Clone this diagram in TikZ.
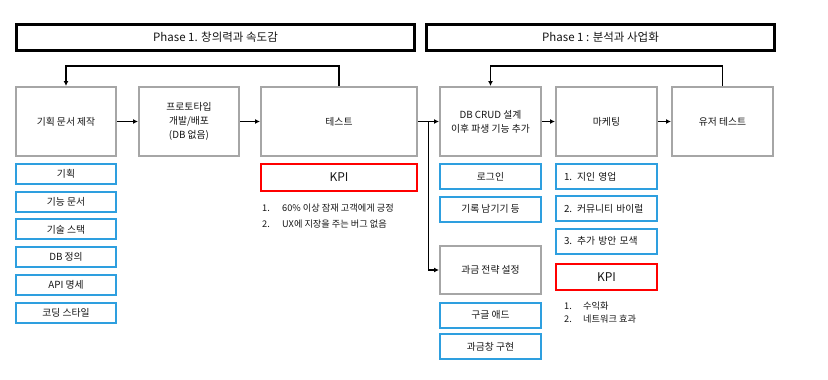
\documentclass[tikz,border=0pt]{standalone}
\usepackage{fontspec}
\setmainfont{Noto Sans CJK KR}
\usetikzlibrary{arrows.meta,positioning,calc}
\definecolor{phink} {HTML}{151515}
\definecolor{phgray}{HTML}{A6A6A6}
\definecolor{phblue}{HTML}{2E9FDF}
\definecolor{phred} {HTML}{FF0000}
\tikzset{
  phtitle/.style={draw=black, line width=3pt, minimum height=26pt, inner sep=0pt,
                  font=\fontsize{11.5}{13}\selectfont, text=phink},
  phstep/.style={draw=phgray, line width=2pt, fill=white, minimum height=69pt,
                 align=center, inner sep=2pt, font=\fontsize{9.8}{14}\selectfont, text=phink},
  phtask/.style={draw=phblue, line width=2pt, minimum width=100pt, minimum height=20pt,
                 inner sep=0pt, font=\fontsize{9.8}{11}\selectfont, text=phink},
  phkpi/.style={draw=phred, line width=2pt, minimum height=26pt, inner sep=0pt,
                font=\fontsize{12}{13}\selectfont, text=phink},
  phlist/.style={anchor=west, inner sep=0pt, font=\fontsize{9.2}{10}\selectfont, text=phink},
  pharrow/.style={-{Latex[length=5pt,width=5pt]}, line width=1.6pt, draw=black},
}
\begin{document}
\begin{tikzpicture}[x=1pt,y=-1pt]
  \useasboundingbox (0,0) rectangle (828,380);
  % phase headers
  \node[phtitle, minimum width=398pt] (phaseA) at (215.5,37) {Phase 1. 창의력과 속도감};
  \node[phtitle, minimum width=348pt] (phaseB) at (600.5,37) {Phase 1 : 분석과 사업화};
  % main steps
  \node[phstep, minimum width=100pt] (plan)  at (66,121.5)  {기획 문서 제작};
  \node[phstep, minimum width=100pt] (proto) at (189,121.5) {프로토타입\\개발/배포\\(DB 없음)};
  \node[phstep, minimum width=156pt] (test)  at (339,121.5) {테스트};
  \node[phstep, minimum width=101pt] (crud)  at (490.5,121.5) {DB CRUD 설계\\이후 파생 기능 추가};
  \node[phstep, minimum width=101pt] (mkt)   at (606.5,121.5) {마케팅};
  \node[phstep, minimum width=101pt] (user)  at (722.5,121.5) {유저 테스트};
  \node[phstep, minimum width=101pt, minimum height=48pt] (bill) at (490.5,270) {과금 전략 설정};
  % plan items
  \foreach \i/\t in {0/기획,1/기능 문서,2/기술 스택,3/DB 정의,4/API 명세,5/코딩 스타일}
    {\node[phtask] (doc\i) at (66,174+\i*27.7) {\t};}
  % phase B items
  \node[phtask, minimum width=101pt, minimum height=25pt] (login) at (490.5,176.5) {로그인};
  \node[phtask, minimum width=101pt, minimum height=25pt] (logs)  at (490.5,209)   {기록 남기기 등};
  \node[phtask, minimum width=101pt, minimum height=25pt] (ads)   at (490.5,315)   {구글 애드};
  \node[phtask, minimum width=101pt, minimum height=25pt] (pay)   at (490.5,346.5) {과금창 구현};
  \foreach \i/\t in {0/1. 지인 영업,1/2. 커뮤니티 바이럴,2/3. 추가 방안 모색}
    {\node[phtask, minimum width=101pt, minimum height=25pt, text width=85pt, align=left]
       (mk\i) at (606.5,176.5+\i*32.3) {\t};}
  % KPIs
  \node[phkpi, minimum width=156pt, minimum height=27pt] (kpiA) at (339,177.5) {KPI};
  \node[phlist] (kpiA1) at (262,208) {\makebox[20pt][l]{1.}60\% 이상 잠재 고객에게 긍정};
  \node[phlist] (kpiA2) at (262,224) {\makebox[20pt][l]{2.}UX에 지장을 주는 버그 없음};
  \node[phkpi, minimum width=101pt] (kpiB) at (606.5,277) {KPI};
  \node[phlist] (kpiB1) at (564,306) {\makebox[19pt][l]{1.}수익화};
  \node[phlist] (kpiB2) at (564,319) {\makebox[19pt][l]{2.}네트워크 효과};
  % flow
  \draw[pharrow] (plan) -- (proto);
  \draw[pharrow] (proto) -- (test);
  \draw[pharrow] (test) -- (crud);
  \draw[pharrow] (crud) -- (mkt);
  \draw[pharrow] (mkt) -- (user);
  \coordinate (split) at ($(test.east)!0.5!(crud.west)$);
  \draw[pharrow] (split) |- (bill.west);
  \draw[pharrow] (test.north) -- ++(0,-20) -| (plan.north);
  \draw[pharrow] (user.north) -- ++(0,-20) -| (crud.north);
\end{tikzpicture}
\end{document}
